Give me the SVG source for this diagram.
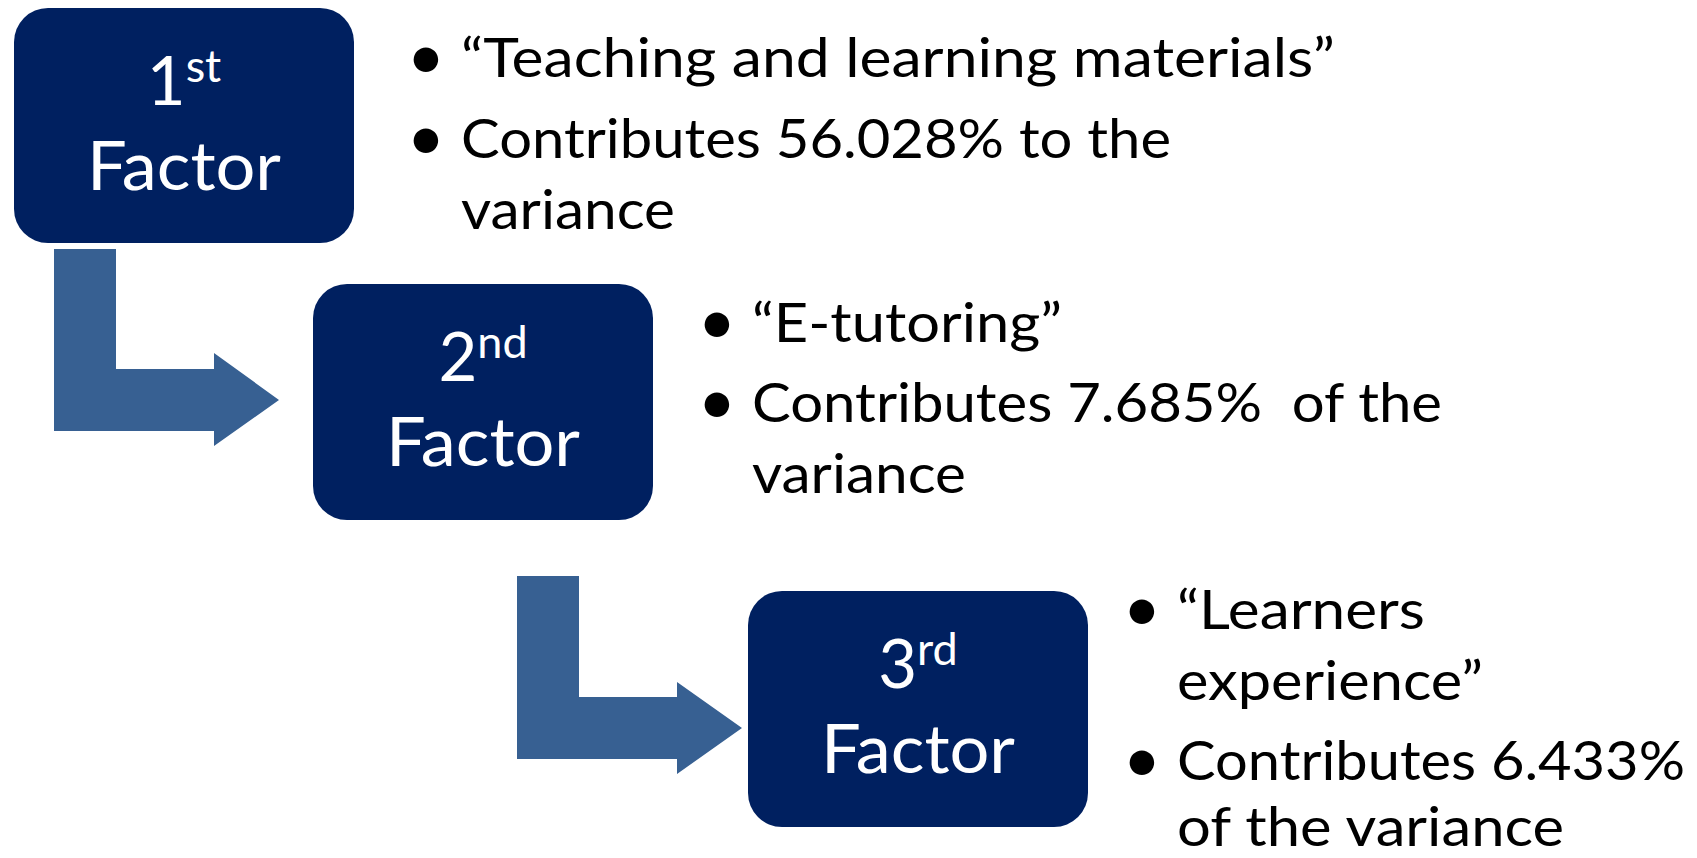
<svg xmlns="http://www.w3.org/2000/svg" width="1697" height="858" viewBox="0 0 1697 858">
<style>
.box{fill:#002060}
.arrow{fill:#376092}
.bt{font-family:Lato,"Open Sans",sans-serif;fill:#ffffff;text-anchor:middle}
.big{font-size:67px}
.sup{font-size:45px}
.tx{font-family:Lato,"Open Sans",sans-serif;font-size:55px;fill:#000000}
.bul{font-family:Lato,sans-serif;font-size:66px;fill:#000000;text-anchor:middle}
</style>
<rect width="1697" height="858" fill="#ffffff"/>
<g id="connectors">
<path class="arrow" d="M54,249 H116 V369 H214 V353 L279,400 L214,446 V431 H54 Z"/>
<path class="arrow" d="M517,576 H579 V697 H677 V682 L742,728 L677,774 V759 H517 Z"/>
</g>
<g id="factor1">
<rect class="box" x="14" y="8" width="340" height="235" rx="34" ry="34"/>
<text class="bt big" x="184" y="105">1<tspan class="sup" dy="-23">st</tspan></text>
<text class="bt big" x="184" y="190" textLength="194" lengthAdjust="spacingAndGlyphs">Factor</text>
</g>
<g id="factor2">
<rect class="box" x="313" y="284" width="340" height="236" rx="34" ry="34"/>
<text class="bt big" x="483" y="381">2<tspan class="sup" dy="-23">nd</tspan></text>
<text class="bt big" x="483" y="466" textLength="194" lengthAdjust="spacingAndGlyphs">Factor</text>
</g>
<g id="factor3">
<rect class="box" x="748" y="591" width="340" height="236" rx="34" ry="34"/>
<text class="bt big" x="918" y="688">3<tspan class="sup" dy="-23">rd</tspan></text>
<text class="bt big" x="918" y="773" textLength="194" lengthAdjust="spacingAndGlyphs">Factor</text>
</g>
<g id="desc1">
<text class="bul" x="426" y="79">•</text>
<text class="bul" x="426" y="160">•</text>
<text class="tx" x="461" y="77" textLength="874" lengthAdjust="spacingAndGlyphs">“Teaching and learning materials”</text>
<text class="tx" x="461" y="158" textLength="710" lengthAdjust="spacingAndGlyphs">Contributes 56.028% to the</text>
<text class="tx" x="461" y="229" textLength="214" lengthAdjust="spacingAndGlyphs">variance</text>
</g>
<g id="desc2">
<text class="bul" x="717" y="344">•</text>
<text class="bul" x="717" y="424">•</text>
<text class="tx" x="752" y="342" textLength="310" lengthAdjust="spacingAndGlyphs">“E-tutoring”</text>
<text class="tx" x="752" y="422" textLength="690" lengthAdjust="spacingAndGlyphs" xml:space="preserve">Contributes 7.685%  of the</text>
<text class="tx" x="752" y="493" textLength="214" lengthAdjust="spacingAndGlyphs">variance</text>
</g>
<g id="desc3">
<text class="bul" x="1142" y="631">•</text>
<text class="bul" x="1142" y="782">•</text>
<text class="tx" x="1177" y="629" textLength="248" lengthAdjust="spacingAndGlyphs">“Learners</text>
<text class="tx" x="1177" y="700" textLength="306" lengthAdjust="spacingAndGlyphs">experience”</text>
<text class="tx" x="1177" y="780" textLength="508" lengthAdjust="spacingAndGlyphs">Contributes 6.433%</text>
<text class="tx" x="1177" y="846" textLength="387" lengthAdjust="spacingAndGlyphs">of the variance</text>
</g>
</svg>
